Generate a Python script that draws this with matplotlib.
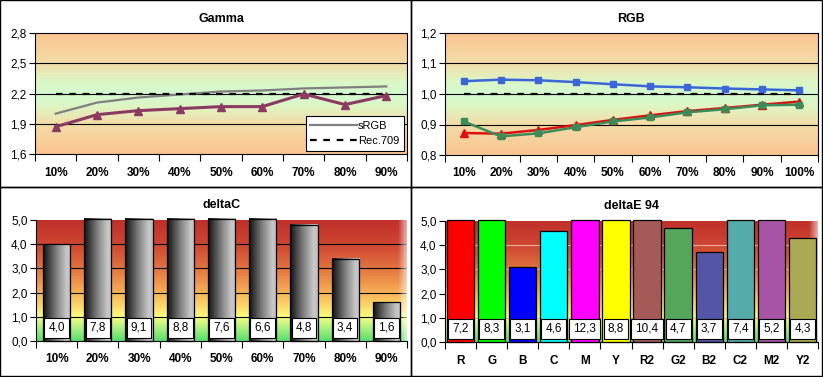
import numpy as np
import matplotlib
matplotlib.use("Agg")
import matplotlib.pyplot as plt
from matplotlib.colors import LinearSegmentedColormap
from matplotlib.patches import Rectangle
from matplotlib.ticker import FuncFormatter, FixedLocator

plt.rcParams['font.family'] = ['Liberation Sans', 'DejaVu Sans']
plt.rcParams['font.size'] = 8.5

# ---- data ----
gamma_cats = ["10%", "20%", "30%", "40%", "50%", "60%", "70%", "80%", "90%"]
gamma_meas = [1.87, 1.99, 2.03, 2.05, 2.07, 2.07, 2.195, 2.09, 2.18]
gamma_srgb = [2.00, 2.11, 2.16, 2.19, 2.22, 2.23, 2.25, 2.26, 2.27]
gamma_rec709 = [2.2] * 9

rgb_cats = ["10%", "20%", "30%", "40%", "50%", "60%", "70%", "80%", "90%", "100%"]
rgb_blue = [1.042, 1.047, 1.045, 1.039, 1.032, 1.025, 1.022, 1.018, 1.015, 1.012]
rgb_red = [0.872, 0.870, 0.882, 0.898, 0.915, 0.930, 0.944, 0.954, 0.965, 0.975]
rgb_green = [0.910, 0.861, 0.871, 0.891, 0.910, 0.923, 0.940, 0.950, 0.963, 0.965]
rgb_ref = [1.0] * 10

dc_cats = gamma_cats
dc_vals = [4.0, 7.8, 9.1, 8.8, 7.6, 6.6, 4.8, 3.4, 1.6]

de_cats = ["R", "G", "B", "C", "M", "Y", "R2", "G2", "B2", "C2", "M2", "Y2"]
de_vals = [7.2, 8.3, 3.1, 4.6, 12.3, 8.8, 10.4, 4.7, 3.7, 7.4, 5.2, 4.3]
de_colors = ["#FF0000", "#00FF00", "#0000FF", "#00FFFF", "#FF00FF", "#FFFF00",
             "#A55A58", "#55A55A", "#5555A8", "#55AAAA", "#A855A8", "#AAAA55"]

W, H = 823, 377
fig = plt.figure(figsize=(W / 100, H / 100), dpi=100)
fig.patch.set_facecolor("white")


def px_axes(x0, y0, x1, y1):
    return fig.add_axes([x0 / W, 1 - y1 / H, (x1 - x0) / W, (y1 - y0) / H])


comma = FuncFormatter(lambda v, p: ("%.1f" % v).replace(".", ","))

peach_green = LinearSegmentedColormap.from_list(
    "pg", [(0, "#FCC490"), (0.25, "#F3DDA8"), (0.4, "#DDF6C4"),
           (0.5, "#D4FAD0"), (0.6, "#DDF6C4"), (0.75, "#F3DDA8"), (1, "#FCC490")])
heat = LinearSegmentedColormap.from_list(
    "heat", [(0, "#58DE6C"), (0.1, "#A6F080"), (0.2, "#FAFC80"), (0.3, "#FCD468"),
             (0.45, "#F2A050"), (0.6, "#E27440"), (0.8, "#CE4632"), (1, "#C0302A")])


def background(ax, cmap):
    grad = np.linspace(1, 0, 256).reshape(-1, 1)
    ax.imshow(grad, cmap=cmap, aspect="auto", extent=(0, 1, 0, 1),
              transform=ax.transAxes, zorder=0)


def style_cat_axis(ax, n, labels):
    ax.set_xlim(-0.5, n - 0.5)
    ax.set_xticks(range(n))
    ax.set_xticklabels(labels, fontweight="bold")
    ax.xaxis.set_minor_locator(FixedLocator(np.arange(-0.5, n)))
    ax.tick_params(axis="x", which="major", length=0, pad=9)
    ax.tick_params(axis="x", which="minor", length=5, direction="out", width=0.8)
    ax.tick_params(axis="y", length=4, direction="out", width=0.8, pad=2)
    ax.yaxis.set_major_formatter(comma)
    for s in ax.spines.values():
        s.set_color("black")
        s.set_linewidth(0.8)
    ax.set_axisbelow(False)


def title(ax, txt, off, ytop):
    ax.text(0.5, 1 + off / ytop, txt, transform=ax.transAxes, ha="center",
            va="center", fontweight="bold", fontsize=9)


# ---- Gamma ----
ax = px_axes(35, 33, 407, 154)
background(ax, peach_green)
x = np.arange(len(gamma_cats))
ax.plot(x, gamma_srgb, color="#808080", lw=1.6, label="sRGB", zorder=3)
ax.plot(x, gamma_rec709, color="black", lw=1.6, ls=(0, (3, 3)), label="Rec.709", zorder=3)
ax.plot(x, gamma_meas, color="#8B3A62", lw=2.2, marker="^", ms=5.5, zorder=4)
ax.set_ylim(1.6, 2.8)
ax.set_yticks([1.6, 1.9, 2.2, 2.5, 2.8])
for yv in [1.9, 2.2, 2.5]:
    ax.axhline(yv, color="black", lw=0.8, zorder=1)
style_cat_axis(ax, len(gamma_cats), gamma_cats)
leg = ax.legend(loc="lower right", fontsize=8, fancybox=False, framealpha=1,
                edgecolor="black", handlelength=4.2, borderaxespad=0.3,
                borderpad=0.4, labelspacing=0.5, handletextpad=0.1)
leg.get_frame().set_linewidth(0.8)
title(ax, "Gamma", 14, 121)

# ---- RGB ----
ax = px_axes(445, 33, 818, 155)
background(ax, peach_green)
x = np.arange(len(rgb_cats))
ax.plot(x, rgb_ref, color="black", lw=1.6, ls=(0, (3, 3)), zorder=3)
ax.plot(x, rgb_blue, color="#3A66D8", lw=1.8, marker="s", ms=5, zorder=4)
ax.plot(x, rgb_red, color="#DD1010", lw=1.8, marker="^", ms=5.5, zorder=4)
ax.plot(x, rgb_green, color="#3C8C5A", lw=1.8, marker="s", ms=5, zorder=5)
ax.set_ylim(0.8, 1.2)
ax.set_yticks([0.8, 0.9, 1.0, 1.1, 1.2])
for yv in [0.9, 1.0, 1.1]:
    ax.axhline(yv, color="black", lw=0.8, zorder=1)
style_cat_axis(ax, len(rgb_cats), rgb_cats)
title(ax, "RGB", 14, 122)


def bar_panel(ax, cats, vals, colors, width, grid_color, gray_grad):
    background(ax, heat)
    ymax = 5.0
    x = np.arange(len(cats))
    for yv in [1, 2, 3, 4]:
        ax.axhline(yv, color=grid_color, lw=0.8, zorder=1)
    heights = [min(v, ymax * 1.01) for v in vals]
    bars = ax.bar(x, heights, width=width, color=colors, edgecolor="black",
                  lw=0.9, zorder=2, clip_on=False)
    if gray_grad:
        g = np.linspace(0, 1, 128).reshape(1, -1)
        cm = LinearSegmentedColormap.from_list(
            "gr", [(0, "#101010"), (0.45, "#7A7A7A"), (0.85, "#C8C8C8"), (1, "#BEBEBE")])
        for b in bars:
            im = ax.imshow(g, cmap=cm, aspect="auto", zorder=2.5, clip_on=False,
                           extent=(b.get_x(), b.get_x() + b.get_width(), 0, b.get_height()))
            im.set_clip_path(b)
        for b in bars:
            b.set_facecolor("none")
            b.set_zorder(3)
    for xi, v in zip(x, vals):
        ax.text(xi, 0.55, ("%.1f" % v).replace(".", ","), ha="center", va="center",
                fontsize=8.5, zorder=6,
                bbox=dict(boxstyle="square,pad=0.35", fc="white", ec="black", lw=0.8))
    ax.set_ylim(0, ymax)
    ax.set_yticks([0, 1, 2, 3, 4, 5])
    style_cat_axis(ax, len(cats), cats)
    ax.spines["top"].set_visible(False)
    ax.spines["right"].set_visible(False)
    # soft fade at right edge of plot area
    fade = np.zeros((1, 64, 4))
    fade[..., :3] = 1
    fade[..., 3] = np.linspace(0, 0.7, 64)
    ax.imshow(fade, aspect="auto", extent=(0.975, 1, 0, 1), transform=ax.transAxes, zorder=1.5)
    ax.set_xlim(-0.5, len(cats) - 0.5)
    ax.set_ylim(0, ymax)


# ---- deltaC ----
ax = px_axes(36, 220, 407, 341)
bar_panel(ax, dc_cats, dc_vals, "#999999", 0.66, "black", True)
title(ax, "deltaC", 15, 121)

# ---- deltaE 94 ----
ax = px_axes(445, 221, 818, 342)
bar_panel(ax, de_cats, de_vals, de_colors, 0.88, "#E8B0A0", False)
title(ax, "deltaE 94", 15, 121)

# panel frames
for (x0, y0, x1, y1) in [(0, 0, 411, 187), (411, 0, 822, 187),
                         (0, 187, 411, 376), (411, 187, 822, 376)]:
    fig.add_artist(Rectangle((x0 / W, 1 - y1 / H), (x1 - x0) / W, (y1 - y0) / H,
                             transform=fig.transFigure, fill=False, ec="black", lw=1))

fig.savefig("out.png", dpi=100)
